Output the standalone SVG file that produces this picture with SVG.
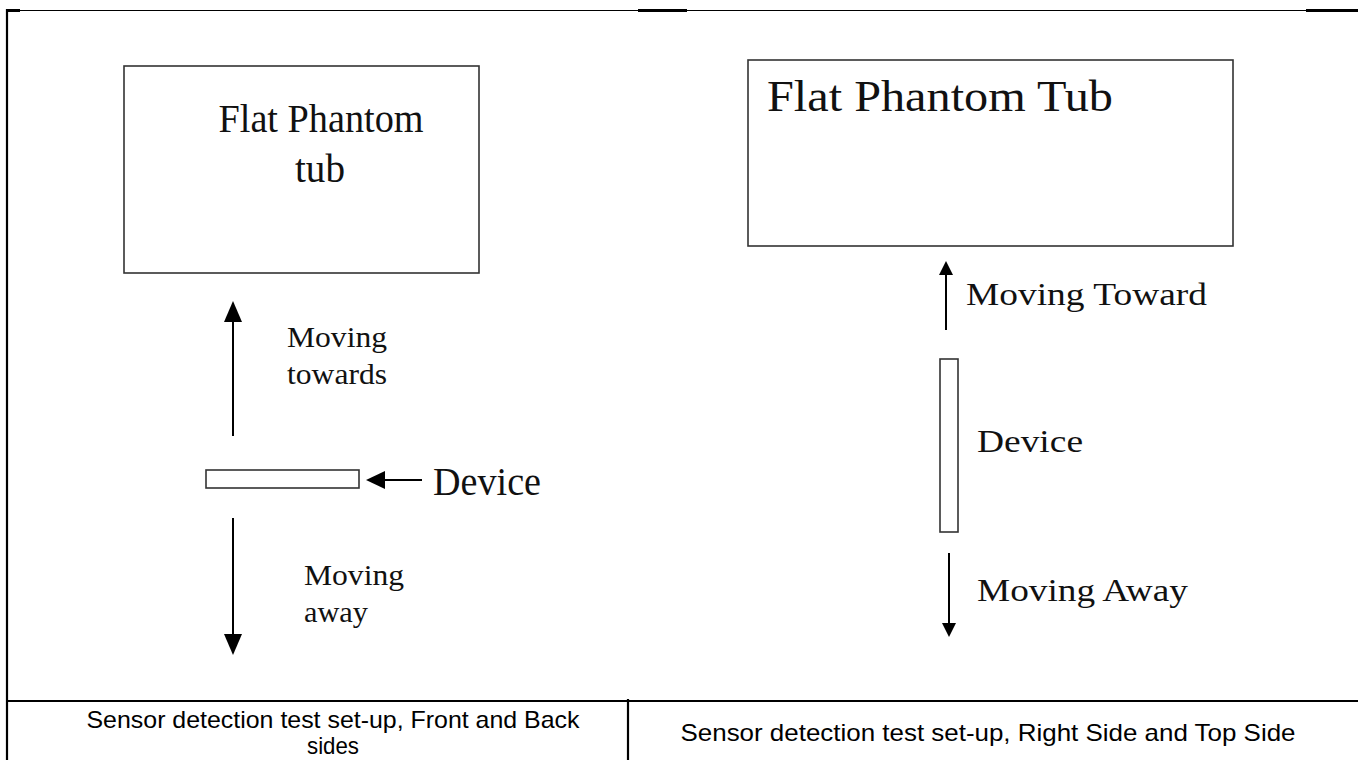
<svg xmlns="http://www.w3.org/2000/svg" width="1358" height="760" viewBox="0 0 1358 760">
<style>
.serif{font-family:"Liberation Serif","Times New Roman",serif;fill:#111;}
.sans{font-family:"Liberation Sans",Arial,sans-serif;fill:#000;}
.box{fill:#fff;stroke:#333;stroke-width:1.6;}
.frame{stroke:#000;fill:none;}
.arr{stroke:#000;stroke-width:2;fill:none;}
.head{fill:#000;stroke:none;}
</style>
<rect x="0" y="0" width="1358" height="760" fill="#fff"/>
<g id="frame">
<line class="frame" x1="7" y1="10.5" x2="1358" y2="10.5" stroke-width="1.2"/>
<line class="frame" x1="7" y1="10.5" x2="20" y2="10.5" stroke-width="3"/>
<line class="frame" x1="638" y1="10.5" x2="687" y2="10.5" stroke-width="3"/>
<line class="frame" x1="1306" y1="10.5" x2="1358" y2="10.5" stroke-width="3"/>
<line class="frame" x1="7" y1="9" x2="7" y2="760" stroke-width="2.2"/>
<line class="frame" x1="7" y1="701" x2="1358" y2="701" stroke-width="2.2"/>
<line class="frame" x1="628" y1="699" x2="628" y2="760" stroke-width="2.2"/>
</g>
<g id="tub-left">
<rect class="box" x="124" y="66" width="355" height="207"/>
<text class="serif" x="321" y="132" font-size="39" text-anchor="middle" textLength="205" lengthAdjust="spacingAndGlyphs">Flat Phantom</text>
<text class="serif" x="320" y="182" font-size="39" text-anchor="middle" textLength="50" lengthAdjust="spacingAndGlyphs">tub</text>
</g>
<g id="tub-right">
<rect class="box" x="748" y="60" width="485" height="186"/>
<text class="serif" x="767" y="111" font-size="45" textLength="346" lengthAdjust="spacingAndGlyphs">Flat Phantom Tub</text>
</g>
<g id="device-left">
<rect class="box" x="206" y="470" width="153" height="18" stroke="#222"/>
<text class="serif" x="433" y="495" font-size="39" textLength="108" lengthAdjust="spacingAndGlyphs">Device</text>
</g>
<g id="device-right">
<rect class="box" x="940" y="359" width="18" height="173" stroke="#222" stroke-width="2"/>
<text class="serif" x="977" y="452" font-size="31" textLength="106" lengthAdjust="spacingAndGlyphs">Device</text>
</g>
<g id="labels-left">
<text class="serif" x="287" y="347" font-size="30" textLength="100" lengthAdjust="spacingAndGlyphs">Moving</text>
<text class="serif" x="287" y="384" font-size="30" textLength="100" lengthAdjust="spacingAndGlyphs">towards</text>
<text class="serif" x="304" y="585" font-size="30" textLength="100" lengthAdjust="spacingAndGlyphs">Moving</text>
<text class="serif" x="304" y="622" font-size="30" textLength="64" lengthAdjust="spacingAndGlyphs">away</text>
</g>
<g id="labels-right">
<text class="serif" x="966" y="305" font-size="31" textLength="241" lengthAdjust="spacingAndGlyphs">Moving Toward</text>
<text class="serif" x="977" y="601" font-size="31" textLength="211" lengthAdjust="spacingAndGlyphs">Moving Away</text>
</g>
<g id="connectors">
<line class="arr" x1="233" y1="436" x2="233" y2="318"/>
<polygon class="head" points="233,301 224,322 242,322"/>
<line class="arr" x1="233" y1="518" x2="233" y2="636"/>
<polygon class="head" points="233,655 224,634 242,634"/>
<line class="arr" x1="422" y1="480" x2="382" y2="480"/>
<polygon class="head" points="366,480 385,471 385,489"/>
<line class="arr" x1="946" y1="330" x2="946" y2="272"/>
<polygon class="head" points="946,261 939,275 953,275"/>
<line class="arr" x1="949" y1="553" x2="949" y2="625"/>
<polygon class="head" points="949,637 942,623 956,623"/>
</g>
<g id="captions">
<text class="sans" x="333" y="728" font-size="24" text-anchor="middle" textLength="493" lengthAdjust="spacingAndGlyphs">Sensor detection test set-up, Front and Back</text>
<text class="sans" x="333" y="754" font-size="24" text-anchor="middle" textLength="52" lengthAdjust="spacingAndGlyphs">sides</text>
<text class="sans" x="988" y="741" font-size="24" text-anchor="middle" textLength="615" lengthAdjust="spacingAndGlyphs">Sensor detection test set-up, Right Side and Top Side</text>
</g>
</svg>
